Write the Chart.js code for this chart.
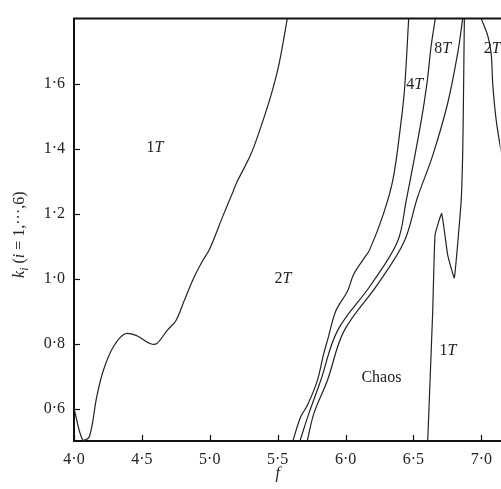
<!DOCTYPE html>
<html>
<head>
<meta charset="utf-8">
<script src="https://cdn.jsdelivr.net/npm/chart.js@4/dist/chart.umd.min.js"></script>
<style>
  html, body { margin: 0; padding: 0; background: #fff; }
  #wrap { width: 501px; height: 489px; position: relative; }
</style>
</head>
<body>
<div id="wrap"><canvas id="myChart"></canvas></div>
<script>
// tick values
const fTicks = [4.0, 4.5, 5.0, 5.5, 6.0, 6.5, 7.0];
const kTicks = [0.6, 0.8, 1.0, 1.2, 1.4, 1.6];

// boundary 1T / 2T
const b1_f = [4.0, 4.064, 4.113, 4.167, 4.216, 4.29, 4.377, 4.463, 4.56, 4.61, 4.685, 4.75, 4.81, 4.88, 4.945, 5.0, 5.10, 5.17, 5.20, 5.30, 5.37, 5.45, 5.51, 5.571];
const b1_k = [0.6, 0.503, 0.513, 0.635, 0.717, 0.79, 0.83, 0.824, 0.80, 0.80, 0.84, 0.87, 0.93, 1.0, 1.053, 1.092, 1.196, 1.266, 1.297, 1.38, 1.459, 1.563, 1.66, 1.80];

// boundary 2T / 4T
const b2_f = [5.612, 5.669, 5.719, 5.792, 5.839, 5.866, 5.928, 6.014, 6.06, 6.137, 6.178, 6.276, 6.35, 6.411, 6.436, 6.465];
const b2_k = [0.5, 0.574, 0.61, 0.686, 0.769, 0.808, 0.90, 0.961, 1.013, 1.063, 1.089, 1.195, 1.307, 1.49, 1.592, 1.80];

// boundary 4T / 8T
const b3_f = [5.664, 5.73, 5.817, 5.94, 6.186, 6.383, 6.445, 6.555, 6.60, 6.63, 6.661];
const b3_k = [0.5, 0.585, 0.686, 0.839, 0.98, 1.114, 1.236, 1.48, 1.602, 1.715, 1.80];

// boundary 8T / chaos
const b4_f = [5.718, 5.767, 5.866, 5.989, 6.236, 6.432, 6.53, 6.642, 6.753, 6.826, 6.863];
const b4_k = [0.5, 0.585, 0.686, 0.839, 0.982, 1.114, 1.25, 1.379, 1.541, 1.694, 1.80];

// boundary chaos / 1T
const b5_f = [6.605, 6.642, 6.659, 6.708, 6.752, 6.801, 6.851, 6.863, 6.868, 6.875];
const b5_k = [0.5, 0.9, 1.134, 1.20, 1.073, 1.002, 1.236, 1.389, 1.54, 1.80];

// boundary on the right (2T)
const b6_f = [6.999, 7.048, 7.072, 7.085, 7.109, 7.146, 7.168];
const b6_k = [1.80, 1.746, 1.694, 1.593, 1.489, 1.389, 1.328];

// region labels
const regionText = ['1T', '2T', '4T', '8T', '2T', 'Chaos', '1T'];
const regionF = [4.596, 5.538, 6.509, 6.715, 7.08, 6.264, 6.754];
const regionK = [1.403, 1.0, 1.595, 1.708, 1.708, 0.696, 0.778];

const pts = (xs, ys) => xs.map((v, i) => ({ x: v, y: ys[i] }));
const SERIF = '"Liberation Serif", "Times New Roman", Tinos, serif';
const dot = (v) => v.toFixed(1).replace('.', '\u00b7');

function drawParts(ctx, parts, x, y, size) {
  // parts: [text, italic, sub]
  let w = 0;
  parts.forEach(p => {
    ctx.font = (p[1] ? 'italic ' : '') + (p[2] ? size * 0.72 : size) + 'px ' + SERIF;
    w += ctx.measureText(p[0]).width;
  });
  let cx = x - w / 2;
  parts.forEach(p => {
    ctx.font = (p[1] ? 'italic ' : '') + (p[2] ? size * 0.72 : size) + 'px ' + SERIF;
    ctx.fillText(p[0], cx, y + (p[2] ? size * 0.28 : 0));
    cx += ctx.measureText(p[0]).width;
  });
}

const decor = {
  id: 'decor',
  afterDraw(chart) {
    const { ctx, chartArea: a, scales: { x, y } } = chart;
    ctx.save();
    ctx.strokeStyle = '#111';
    ctx.lineWidth = 2;
    ctx.beginPath();
    ctx.moveTo(a.left - 1, a.top);
    ctx.lineTo(a.right + 2, a.top);
    ctx.stroke();
    ctx.lineWidth = 1.2;
    fTicks.forEach(v => {
      const px = Math.round(x.getPixelForValue(v)) + 0.5;
      ctx.beginPath();
      ctx.moveTo(px, a.bottom);
      ctx.lineTo(px, a.bottom - 6);
      ctx.stroke();
    });
    kTicks.forEach(v => {
      const py = Math.round(y.getPixelForValue(v)) + 0.5;
      ctx.beginPath();
      ctx.moveTo(a.left, py);
      ctx.lineTo(a.left + 6, py);
      ctx.stroke();
    });

    ctx.fillStyle = '#222';
    ctx.textBaseline = 'middle';
    ctx.textAlign = 'left';
    regionText.forEach((t, i) => {
      const px = x.getPixelForValue(regionF[i]);
      const py = y.getPixelForValue(regionK[i]);
      if (t === 'Chaos') {
        drawParts(ctx, [['Chaos', false, false]], px, py, 16);
      } else {
        drawParts(ctx, [[t[0], false, false], ['T', true, false]], px, py, 16);
      }
    });

    // axis titles
    drawParts(ctx, [['f', true, false]], x.getPixelForValue(5.5), 474, 16);
    ctx.translate(20, y.getPixelForValue(1.135));
    ctx.rotate(-Math.PI / 2);
    drawParts(ctx, [['k', true, false], ['i', true, true], [' (', false, false], ['i', true, false],
      [' = 1,\u00b7\u00b7\u00b7,6)', false, false]], 0, 0, 16);
    ctx.restore();
  }
};

const lineStyle = { borderColor: '#222', borderWidth: 1.2, pointRadius: 0, showLine: true, tension: 0.35, fill: false };

new Chart(document.getElementById('myChart').getContext('2d'), {
  type: 'scatter',
  data: {
    datasets: [
      { data: pts(b1_f, b1_k), ...lineStyle },
      { data: pts(b2_f, b2_k), ...lineStyle },
      { data: pts(b3_f, b3_k), ...lineStyle },
      { data: pts(b4_f, b4_k), ...lineStyle },
      { data: pts(b5_f, b5_k), ...lineStyle, tension: 0.1 },
      { data: pts(b6_f, b6_k), ...lineStyle },
    ],
  },
  options: {
    responsive: true,
    maintainAspectRatio: false,
    animation: false,
    layout: { padding: { top: 14, right: 0, left: 0, bottom: 0 } },
    plugins: { legend: { display: false }, tooltip: { enabled: false } },
    scales: {
      x: {
        type: 'linear',
        min: 4.0,
        max: 7.14,
        afterBuildTicks: (s) => { s.ticks = fTicks.map(v => ({ value: v })); },
        afterFit: (s) => { s.height = 48; },
        grid: { display: false, drawTicks: false },
        border: { display: true, color: '#111', width: 2 },
        ticks: { padding: 9, color: '#222', font: { family: SERIF, size: 16 }, callback: (v) => dot(v), maxRotation: 0 },
      },
      y: {
        type: 'linear',
        min: 0.5,
        max: 1.8,
        afterBuildTicks: (s) => { s.ticks = kTicks.map(v => ({ value: v })); },
        afterFit: (s) => { s.width = 74; },
        grid: { display: false, drawTicks: false },
        border: { display: true, color: '#111', width: 2 },
        ticks: { padding: 9, color: '#222', font: { family: SERIF, size: 16 }, callback: (v) => dot(v) },
      },
    },
  },
  plugins: [decor],
});
</script>
</body>
</html>
